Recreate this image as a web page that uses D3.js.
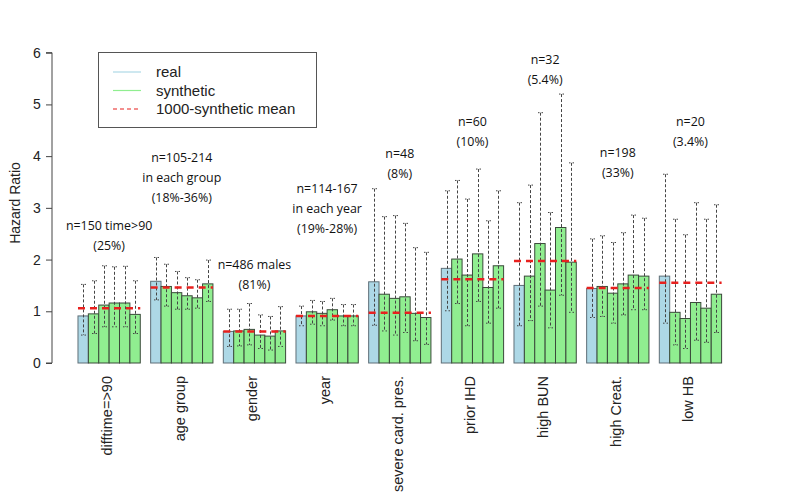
<!DOCTYPE html>
<html>
<head>
<meta charset="utf-8">
<script src="https://cdn.jsdelivr.net/npm/d3@7"></script>
<style>
  html, body { margin: 0; padding: 0; background: #fff; }
  svg { display: block; }
</style>
</head>
<body>
<svg id="chart" width="800" height="500"></svg>
<script>
// ---------------- data ----------------
const categories = ["difftime=>90", "age group", "gender", "year", "severe card. pres.",
                    "prior IHD", "high BUN", "high Creat.", "low HB"];
const realHR = [0.91, 1.58, 0.61, 0.91, 1.57, 1.83, 1.50, 1.44, 1.68];
const realLo = [0.54, 1.22, 0.32, 0.72, 0.73, 1.01, 0.72, 0.88, 0.77];
const realHi = [1.52, 2.04, 1.04, 1.10, 3.37, 3.33, 3.10, 2.40, 3.65];
const synthHR = [
  [0.95, 1.12, 1.16, 1.16, 0.94],
  [1.48, 1.36, 1.30, 1.26, 1.53],
  [0.62, 0.65, 0.54, 0.52, 0.62],
  [0.99, 0.96, 1.03, 0.91, 0.91],
  [1.33, 1.25, 1.28, 0.96, 0.88],
  [2.01, 1.70, 2.11, 1.46, 1.88],
  [1.68, 2.31, 1.41, 2.62, 1.95],
  [1.48, 1.35, 1.53, 1.70, 1.68],
  [0.98, 0.86, 1.17, 1.06, 1.33]
];
const synthLo = [
  [0.57, 0.70, 0.70, 0.70, 0.57],
  [1.10, 1.04, 1.04, 1.06, 1.19],
  [0.33, 0.35, 0.28, 0.25, 0.32],
  [0.75, 0.72, 0.83, 0.72, 0.72],
  [0.62, 0.54, 0.59, 0.43, 0.36],
  [1.15, 0.72, 1.19, 0.77, 1.06],
  [0.82, 1.10, 0.68, 1.31, 0.98],
  [0.90, 0.77, 0.93, 1.03, 1.03],
  [0.35, 0.28, 0.44, 0.40, 0.59]
];
const synthHi = [
  [1.59, 1.88, 1.86, 1.87, 1.59],
  [1.91, 1.77, 1.65, 1.61, 1.99],
  [1.04, 1.15, 0.93, 0.90, 1.09],
  [1.21, 1.19, 1.25, 1.13, 1.13],
  [2.83, 2.85, 2.70, 2.23, 2.14],
  [3.53, 3.17, 3.75, 2.75, 3.33],
  [3.44, 4.84, 2.91, 5.20, 3.87],
  [2.46, 2.33, 2.52, 2.86, 2.80],
  [2.78, 2.48, 3.10, 2.78, 3.06]
];
const meanHR = [1.06, 1.46, 0.61, 0.91, 0.97, 1.62, 1.97, 1.45, 1.55];
const noteLines = [
  ["n=150 time>90", "(25%)"],
  ["n=105-214", "in each group", "(18%-36%)"],
  ["n=486 males", "(81%)"],
  ["n=114-167", "in each year", "(19%-28%)"],
  ["n=48", "(8%)"],
  ["n=60", "(10%)"],
  ["n=32", "(5.4%)"],
  ["n=198", "(33%)"],
  ["n=20", "(3.4%)"]
];
const noteY = [2.65, 3.98, 1.90, 3.38, 4.04, 4.66, 5.86, 4.06, 4.66];
const yTicks = [0, 1, 2, 3, 4, 5, 6];
const legendLabels = ["real", "synthetic", "1000-synthetic mean"];

// ---------------- layout ----------------
const svg = d3.select("#chart");
const nPer = 6;          // bars per group
const unitsPer = 7;      // 6 bars + 1 space
const x = d3.scaleLinear().domain([0, categories.length * unitsPer]).range([67.6, 721.6]);
const y = d3.scaleLinear().domain([0, 6]).range([363, 52.7]);

const BLUE = "#add8e6", GREEN = "#90ee90";
const fontAxis = "'Liberation Sans', Arial, sans-serif";
const fontNote = "'Open Sans', 'Noto Sans', sans-serif";

// Build bar table
const bars = [];
categories.forEach((c, g) => {
  const vals = [realHR[g]].concat(synthHR[g]);
  const los = [realLo[g]].concat(synthLo[g]);
  const his = [realHi[g]].concat(synthHi[g]);
  vals.forEach((v, j) => {
    bars.push({ g, j, v, lo: los[j], hi: his[j], u: g * unitsPer + 1 + j });
  });
});

// bars
svg.append("g").selectAll("rect").data(bars).join("rect")
  .attr("x", d => x(d.u))
  .attr("y", d => y(d.v))
  .attr("width", d => x(d.u + 1) - x(d.u))
  .attr("height", d => y(0) - y(d.v))
  .attr("fill", d => d.j === 0 ? BLUE : GREEN)
  .attr("stroke", d => d.j === 0 ? "#5f6f78" : "#3a4a3a")
  .attr("stroke-width", 1);

// error bars
const eg = svg.append("g").attr("stroke", "#444").attr("stroke-width", 1);
bars.forEach(d => {
  const cx = Math.round(x(d.u + 0.5)) + 0.5;
  eg.append("line").attr("x1", cx).attr("x2", cx)
    .attr("y1", y(d.hi)).attr("y2", y(d.lo))
    .attr("stroke-dasharray", "3,2");
  [d.hi, d.lo].forEach(v => {
    eg.append("line").attr("x1", cx - 2.5).attr("x2", cx + 2.5)
      .attr("y1", y(v)).attr("y2", y(v))
      .attr("stroke-dasharray", "1.5,2");
  });
});

// mean lines
svg.append("g").selectAll("line").data(meanHR).join("line")
  .attr("x1", (d, g) => x(g * unitsPer + 1))
  .attr("x2", (d, g) => x(g * unitsPer + 1 + nPer))
  .attr("y1", d => y(d)).attr("y2", d => y(d))
  .attr("stroke", "#e8201e").attr("stroke-width", 2.5)
  .attr("stroke-dasharray", "7,5");

// y axis
const yAxis = d3.axisLeft(y).tickValues(yTicks).tickSize(6).tickPadding(4).tickFormat(d3.format("d"));
const ya = svg.append("g").attr("transform", "translate(52,0)").call(yAxis);
ya.select(".domain").attr("stroke", "#444").attr("d", `M-6,${y(6)}H0V${y(0)}H-6`);
ya.selectAll(".tick line").attr("stroke", "#444");
ya.selectAll("text").attr("font-family", fontAxis).attr("font-size", 14).attr("fill", "#222")
  .attr("text-anchor", "middle").attr("x", -15);

svg.append("text")
  .attr("transform", `translate(20,203) rotate(-90)`)
  .attr("text-anchor", "middle")
  .attr("font-family", fontAxis).attr("font-size", 14).attr("fill", "#222")
  .text("Hazard Ratio");

// x labels (rotated)
svg.append("g").selectAll("text").data(categories).join("text")
  .attr("transform", (d, g) => `translate(${x(g * unitsPer + 4) + 3},376) rotate(-90)`)
  .attr("text-anchor", "end")
  .attr("font-family", fontAxis).attr("font-size", 14.5).attr("fill", "#222")
  .text(d => d);

// annotations
const ng = svg.append("g").attr("font-family", fontNote).attr("font-size", 12.4)
  .attr("fill", "#111").attr("text-anchor", "middle");
noteLines.forEach((lines, g) => {
  lines.forEach((t, k) => {
    ng.append("text")
      .attr("x", x(g * unitsPer + 4))
      .attr("y", y(noteY[g]) + k * 20)
      .attr("dy", "0.35em")
      .text(t);
  });
});

// legend
const lg = svg.append("g");
lg.append("rect").attr("x", 98.5).attr("y", 52.5).attr("width", 218).attr("height", 75)
  .attr("fill", "#fff").attr("stroke", "#555").attr("stroke-width", 1);
const legendStyle = [
  { stroke: BLUE, dash: null },
  { stroke: GREEN, dash: null },
  { stroke: "#e8201e", dash: "4,3" }
];
legendLabels.forEach((lab, i) => {
  const yy = 72 + i * 18.5;
  lg.append("line").attr("x1", 113).attr("x2", 141).attr("y1", yy).attr("y2", yy)
    .attr("stroke", legendStyle[i].stroke).attr("stroke-width", 1.2)
    .attr("stroke-dasharray", legendStyle[i].dash);
  lg.append("text").attr("x", 156).attr("y", yy).attr("dy", "0.35em")
    .attr("font-family", fontAxis).attr("font-size", 15).attr("fill", "#222")
    .text(lab);
});
</script>
</body>
</html>
